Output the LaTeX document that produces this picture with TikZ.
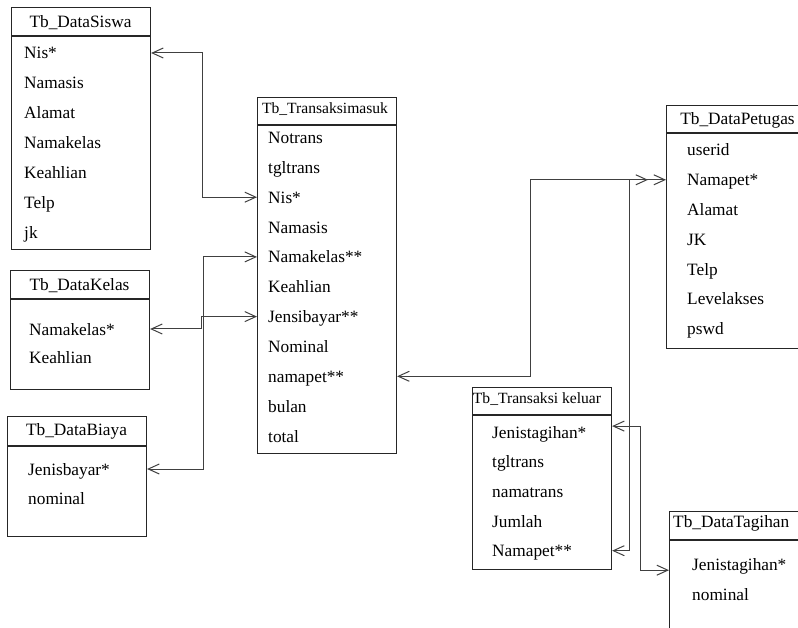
\documentclass[tikz,border=0pt]{standalone}
\usepackage{fontspec}
\setmainfont{Liberation Serif}
\usetikzlibrary{arrows.meta}
\usetikzlibrary{positioning}

\begin{document}
\begin{tikzpicture}[x=1pt,y=-1pt,
  font=\fontsize{17.3}{20}\selectfont,
  box/.style={draw=black!85,line width=1.1pt,inner sep=0pt,anchor=north west},
  row/.style={inner sep=0pt,anchor=west,text height=12pt,text depth=0pt},
  title/.style={inner sep=0pt,text height=12pt,text depth=0pt},
  smalltitle/.style={title,font=\fontsize{15.6}{18}\selectfont,text height=11pt},
  link/.style={draw=black!75,line width=1pt,{Straight Barb[length=11pt,width=10pt]}-{Straight Barb[length=11pt,width=10pt]}}]
\useasboundingbox (0,0) rectangle (798,628);
\clip (0,0) rectangle (798,628);

% tables
\node[box,minimum width=139pt,minimum height=242pt] (siswa) at (11,7) {};
\draw[black!85,line width=1.1pt] (11,36) -- (150,36);
\node[title] (siswa-t) at (80.5,21.5) {Tb\_DataSiswa};
\node[row] (snis) at (24,53) {Nis*};
\node[row] (snamasis) at (24,83) {Namasis};
\node[row] (salamat) at (24,113) {Alamat};
\node[row] (snamakelas) at (24,143) {Namakelas};
\node[row] (skeahlian) at (24,173) {Keahlian};
\node[row] (stelp) at (24,203) {Telp};
\node[row] (sjk) at (24,233) {jk};

\node[box,minimum width=139pt,minimum height=356pt] (tm) at (257,97) {};
\draw[black!85,line width=1.1pt] (257,125) -- (396,125);
\node[smalltitle] (tm-t) at (325,108) {Tb\_Transaksimasuk};
\node[row] (tmnotrans) at (268,137.5) {Notrans};
\node[row] (tmtgl) at (268,167.4) {tgltrans};
\node[row] (tmnis) at (268,197.2) {Nis*};
\node[row] (tmnamasis) at (268,227.1) {Namasis};
\node[row] (tmnamakelas) at (268,256.9) {Namakelas**};
\node[row] (tmkeahlian) at (268,286.8) {Keahlian};
\node[row] (tmjenis) at (268,316.6) {Jensibayar**};
\node[row] (tmnominal) at (268,346.5) {Nominal};
\node[row] (tmnamapet) at (268,376.3) {namapet**};
\node[row] (tmbulan) at (268,406.2) {bulan};
\node[row] (tmtotal) at (268,436) {total};

\node[box,minimum width=139pt,minimum height=119pt] (kelas) at (10,270) {};
\draw[black!85,line width=1.1pt] (10,299) -- (149,299);
\node[title] (kelas-t) at (79.5,284.5) {Tb\_DataKelas};
\node[row] (knamakelas) at (29,329) {Namakelas*};
\node[row] (kkeahlian) at (29,357) {Keahlian};

\node[box,minimum width=139pt,minimum height=120pt] (biaya) at (7,416) {};
\draw[black!85,line width=1.1pt] (7,446) -- (146,446);
\node[title] (biaya-t) at (76.5,429) {Tb\_DataBiaya};
\node[row] (bjenis) at (28,469) {Jenisbayar*};
\node[row] (bnominal) at (28,498) {nominal};

\node[box,minimum width=143pt,minimum height=243pt] (pet) at (666,105) {};
\draw[black!85,line width=1.1pt] (666,133) -- (809,133);
\node[title] (pet-t) at (737.5,119) {Tb\_DataPetugas};
\node[row] (puserid) at (687,150) {userid};
\node[row] (pnamapet) at (687,179.8) {Namapet*};
\node[row] (palamat) at (687,209.6) {Alamat};
\node[row] (pjk) at (687,239.4) {JK};
\node[row] (ptelp) at (687,269.2) {Telp};
\node[row] (plevel) at (687,299) {Levelakses};
\node[row] (ppswd) at (687,328.8) {pswd};

\node[box,minimum width=139pt,minimum height=182pt] (tk) at (472,387) {};
\draw[black!85,line width=1.1pt] (472,415) -- (611,415);
\node[smalltitle] (tk-t) at (537,398) {Tb\_Transaksi keluar};
\node[row] (tkjenis) at (492,432.3) {Jenistagihan*};
\node[row] (tktgl) at (492,461.9) {tgltrans};
\node[row] (tknamatrans) at (492,491.5) {namatrans};
\node[row] (tkjumlah) at (492,521.1) {Jumlah};
\node[row] (tknamapet) at (492,550.7) {Namapet**};

\node[box,minimum width=140pt,minimum height=130pt] (tg) at (669,511) {};
\draw[black!85,line width=1.1pt] (669,540) -- (809,540);
\node[title,anchor=west] (tg-t) at (673,521.5) {Tb\_DataTagihan};
\node[row] (tgjenis) at (692,564) {Jenistagihan*};
\node[row] (tgnominal) at (692,594) {nominal};

% connectors
\coordinate (busA) at (202,0);
\coordinate (busB) at (201,0);
\coordinate (busC) at (203,0);
\coordinate (busD) at (530,0);
\coordinate (busE) at (629,0);
\coordinate (busF) at (640,0);
\coordinate (petin) at (648,179.8);

\draw[link] (siswa.east |- snis) -| (busA |- tmnis) -- (tm.west |- tmnis);
\draw[link] (kelas.east |- knamakelas) -| (busB |- tmjenis) -- (tm.west |- tmjenis);
\draw[link] (biaya.east |- bjenis) -| (busC |- tmnamakelas) -- (tm.west |- tmnamakelas);
\draw[link] (tm.east |- tmnamapet) -| (busD |- pnamapet) -- (pet.west |- pnamapet);
\draw[link] (tk.east |- tknamapet) -| (busE |- pnamapet) -- (petin);
\draw[link] (tk.east |- tkjenis.north) -| (busF |- tgjenis.south) -- (tg.west |- tgjenis.south);

\end{tikzpicture}
\end{document}
